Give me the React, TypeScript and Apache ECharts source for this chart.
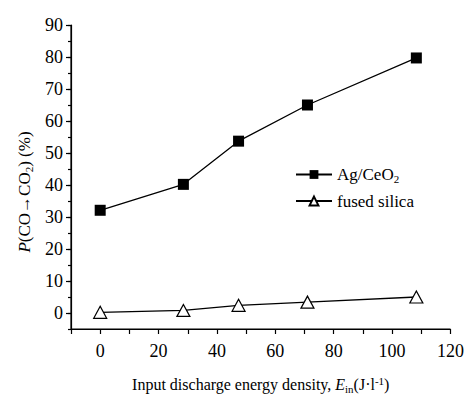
import React, { useEffect, useRef } from "react";
import * as echarts from "echarts";

const energy = [0, 28.5, 47.4, 71, 108.3];
const agCeO2 = [32.1, 40.2, 53.7, 65, 79.7];
const fusedSilica = [0.2, 0.8, 2.4, 3.4, 5];
const yMajorTicks = [0, 10, 20, 30, 40, 50, 60, 70, 80, 90];
const xRange = [-10, 120];
const yRange = [-5, 90];

const FONT = "Liberation Serif";

export default function App() {
  const ref = useRef<HTMLDivElement>(null);
  useEffect(() => {
    if (!ref.current) return;
    const chart = echarts.init(ref.current, null, { renderer: "svg" });
    chart.setOption({
      animation: false,
      backgroundColor: "#fff",
      textStyle: { fontFamily: FONT, color: "#000" },
      grid: { left: 71, right: 15, top: 25, bottom: 68 },
      legend: {
        left: 290,
        top: 161,
        orient: "vertical",
        itemWidth: 36,
        itemHeight: 11,
        itemGap: 8,
        data: ["Ag/CeO2", "fused silica"],
        formatter: (name: string) => (name === "Ag/CeO2" ? "{n|Ag/CeO}{s|2}" : "{n|fused silica}"),
        textStyle: {
          fontFamily: FONT,
          color: "#000",
          fontSize: 17,
          rich: {
            n: { fontFamily: FONT, fontSize: 17, color: "#000" },
            s: { fontFamily: FONT, fontSize: 11, color: "#000", padding: [9, 0, 0, 0] },
          },
        },
      },
      xAxis: {
        type: "value",
        min: xRange[0],
        max: xRange[1],
        interval: 10,
        splitLine: { show: false },
        axisLine: { show: true, onZero: false, lineStyle: { color: "#000", width: 1.2 } },
        axisTick: { show: true, length: 5, lineStyle: { color: "#000", width: 1.2 } },
        axisLabel: {
          formatter: (v: number) => (v >= 0 && v % 20 === 0 ? "{n|" + v + "}" : ""),
          margin: 13,
          rich: { n: { fontFamily: FONT, fontSize: 18, color: "#000" } },
        },
        name: "{n|Input discharge energy density, }{i|E}{s|in}{n|(J·l}{p|-1}{n|)}",
        nameLocation: "middle",
        nameGap: 46,
        nameTextStyle: {
          fontFamily: FONT,
          color: "#000",
          rich: {
            n: { fontFamily: FONT, fontSize: 16, color: "#000" },
            i: { fontFamily: FONT, fontSize: 16, color: "#000", fontStyle: "italic" },
            s: { fontFamily: FONT, fontSize: 11, color: "#000", padding: [8, 0, 0, 0] },
            p: { fontFamily: FONT, fontSize: 11, color: "#000", padding: [0, 0, 8, 0] },
          },
        },
      },
      yAxis: [
        {
          type: "value",
          min: yRange[0],
          max: yRange[1],
          interval: 5,
          position: "left",
          splitLine: { show: false },
          axisLine: { show: true, onZero: false, lineStyle: { color: "#000", width: 1.2 } },
          axisTick: { show: true, length: 3, lineStyle: { color: "#000", width: 1.2 } },
          axisLabel: {
            formatter: (v: number) => (v >= 0 && v % 10 === 0 ? "{n|" + v + "}" : ""),
            margin: 8,
            rich: { n: { fontFamily: FONT, fontSize: 18, color: "#000" } },
          },
          name: "{i|P}{n|(CO→CO}{s|2}{n|) (%)}",
          nameLocation: "middle",
          nameGap: 28,
          nameRotate: 90,
          nameTextStyle: {
            fontFamily: FONT,
            color: "#000",
            padding: [0, 30, 0, 0],
            rich: {
              n: { fontFamily: FONT, fontSize: 17, color: "#000" },
              i: { fontFamily: FONT, fontSize: 17, color: "#000", fontStyle: "italic" },
              s: { fontFamily: FONT, fontSize: 11, color: "#000", padding: [9, 0, 0, 0] },
            },
          },
        },
        {
          type: "value",
          min: yRange[0],
          max: yRange[1],
          interval: 5,
          position: "left",
          offset: 0,
          splitLine: { show: false },
          axisLine: { show: false, onZero: false },
          axisTick: { show: true, customValues: yMajorTicks, length: 5, lineStyle: { color: "#000", width: 1.2 } },
          axisLabel: { show: false },
        },
      ],
      series: [
        {
          name: "Ag/CeO2",
          type: "line",
          yAxisIndex: 0,
          data: energy.map((x, i) => [x, agCeO2[i]]),
          symbol: "rect",
          symbolSize: 11,
          lineStyle: { color: "#000", width: 1.3 },
          itemStyle: { color: "#000" },
        },
        {
          name: "fused silica",
          type: "line",
          yAxisIndex: 0,
          data: energy.map((x, i) => [x, fusedSilica[i]]),
          symbol: "triangle",
          symbolSize: [13, 12],
          lineStyle: { color: "#000", width: 1.3 },
          itemStyle: { color: "#fff", borderColor: "#000", borderWidth: 1.2 },
        },
      ],
    });
    // Axis frame lines (left and bottom), positioned through the chart's own scales.
    const corner = chart.convertToPixel({ gridIndex: 0 }, [xRange[0], yRange[0]]) as number[];
    const topLeft = chart.convertToPixel({ gridIndex: 0 }, [xRange[0], yRange[1]]) as number[];
    const bottomRight = chart.convertToPixel({ gridIndex: 0 }, [xRange[1], yRange[0]]) as number[];
    if (corner && topLeft && bottomRight) {
      chart.setOption({
        graphic: [
          {
            type: "polyline",
            z: 10,
            silent: true,
            shape: { points: [topLeft, corner, bottomRight] },
            style: { stroke: "#000", lineWidth: 1.2, fill: "none" },
          },
        ],
      });
    }
    return () => chart.dispose();
  }, []);
  return <div ref={ref} style={{ width: 467, height: 399, position: "absolute", left: 0, top: 0 }} />;
}
